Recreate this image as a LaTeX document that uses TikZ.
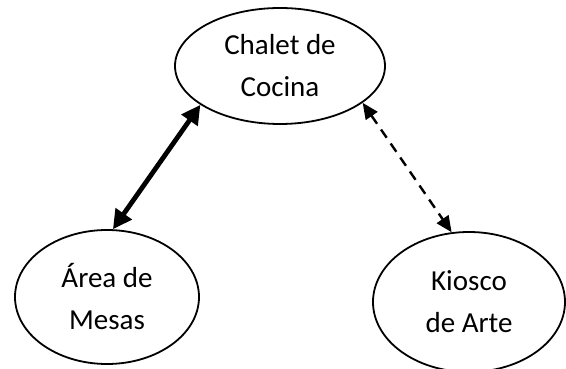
\documentclass[tikz,border=0pt]{standalone}
\usepackage{fontspec}
\setmainfont{Carlito}
\usetikzlibrary{arrows.meta, shapes.geometric}

\tikzset{
    place/.style={draw, ellipse, line width=1.8pt, inner sep=0pt, align=center,
        font=\fontsize{29}{42}\selectfont},
    strong link/.style={line width=4.8pt, {Triangle[length=19pt,width=19pt]}-{Triangle[length=19pt,width=19pt]}},
    weak link/.style={line width=2.4pt, dash pattern=on 10pt off 7pt,
        {Triangle[length=16pt,width=14pt]}-{Triangle[length=16pt,width=14pt]}}
}

\begin{document}
\begin{tikzpicture}[x=1pt, y=1pt]
    \useasboundingbox (0,0) rectangle (566,369);
    % Places
    \node[place, minimum width=210pt, minimum height=116pt] (chalet) at (280,303) {Chalet de\\Cocina};
    \node[place, minimum width=184pt, minimum height=134pt] (mesas) at (107,72) {Área de\\Mesas};
    \node[place, minimum width=192pt, minimum height=140pt] (kiosco) at (469,67) {Kiosco\\de Arte};
    % Links
    \draw[strong link] (chalet.206) -- (mesas.85);
    \draw[weak link] (chalet.336) -- (kiosco.104);
\end{tikzpicture}
\end{document}
